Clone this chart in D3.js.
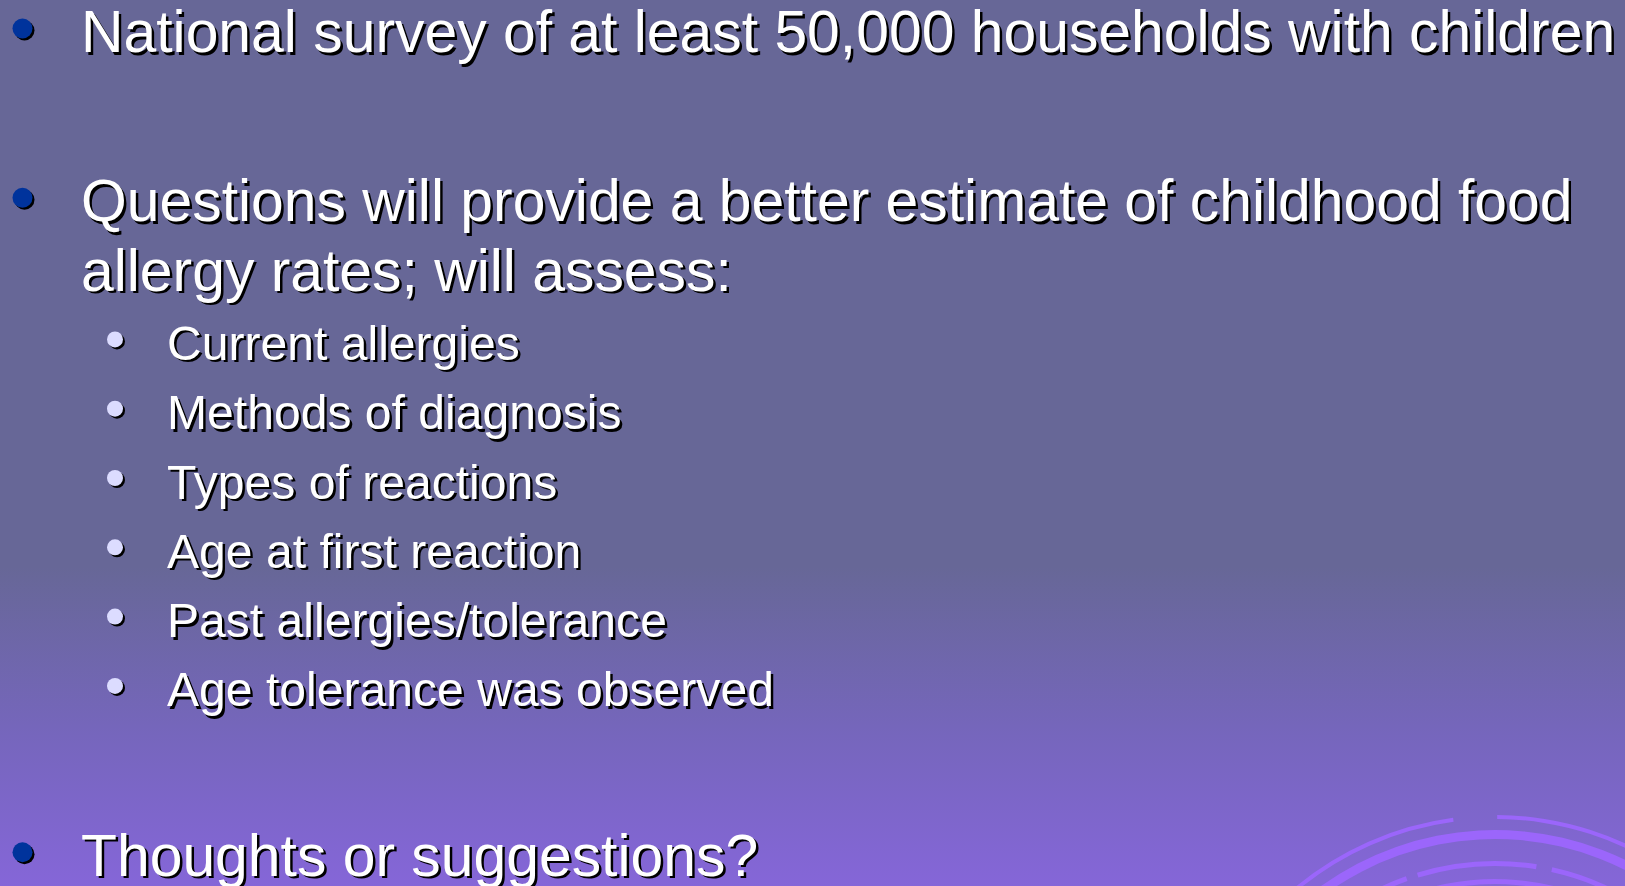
<html>
  <script src="https://cdnjs.cloudflare.com/ajax/libs/d3/7.8.5/d3.min.js"></script>
  <style>
    html, body {
      width: 100%;
      height: 100%;
      padding: 0px;
      margin: 0px;
      overflow: hidden;
    }
    svg text {
      font-family: "Liberation Sans", Arial, sans-serif;
    }
  </style>
  <body>
    <div id="slide"></div>
    <script>
      // slide content
      var mainBullets = [
        ["National survey of at least 50,000 households with children"],
        ["Questions will provide a better estimate of childhood food", "allergy rates; will assess:"],
        ["Thoughts or suggestions?"]
      ];
      var subBullets = [
        "Current allergies",
        "Methods of diagnosis",
        "Types of reactions",
        "Age at first reaction",
        "Past allergies/tolerance",
        "Age tolerance was observed"
      ];
      // which main bullet the sub list hangs under
      var subParent = 1;

      var width = 1625, height = 886;

      var svg = d3.select("#slide").append("svg")
        .attr("width", width)
        .attr("height", height);

      var defs = svg.append("defs");
      var grad = defs.append("linearGradient")
        .attr("id", "bg")
        .attr("x1", 0).attr("y1", 0).attr("x2", 0).attr("y2", 1);
      grad.append("stop").attr("offset", 0).attr("stop-color", "#676797");
      grad.append("stop").attr("offset", 0.64).attr("stop-color", "#676797");
      grad.append("stop").attr("offset", 0.82).attr("stop-color", "#7566bb");
      grad.append("stop").attr("offset", 1).attr("stop-color", "#8566d8");

      svg.append("rect")
        .attr("width", width)
        .attr("height", height)
        .attr("fill", "url(#bg)");

      // swirl in the corner
      var swirl = svg.append("g").attr("transform", "translate(1495,1128)");
      var arcs = [
        [309, 313, -40, -7.7], [309, 313, 0.4, 70],
        [289, 298, -60, 70],
        [262, 267, -40, -19.5], [262, 267, -17, 9], [262, 267, 12.4, 60],
        [244, 249, -25, 30]
      ];
      var rad = Math.PI / 180;
      swirl.selectAll("path")
        .data(arcs)
        .join("path")
          .attr("d", d => d3.arc()({ innerRadius: d[0], outerRadius: d[1], startAngle: d[2] * rad, endAngle: d[3] * rad }))
          .attr("fill", "#9b66fb");

      // build the rows: one per text line
      var rows = [];
      var slot = 0, gaps = 0;
      mainBullets.forEach(function(lines, i) {
        lines.forEach(function(t, j) {
          rows.push({ text: t, level: 0, bullet: j == 0, slot: slot, gaps: gaps });
          slot++;
        });
        if (i == subParent) {
          subBullets.forEach(function(t) {
            rows.push({ text: t, level: 1, bullet: true, slot: slot, gaps: gaps });
            slot++;
          });
        }
        gaps++;
      });

      var lineStep = 69.3, paraGap = 100, firstBase = 52;
      var rowY = d => firstBase + d.slot * lineStep + d.gaps * paraGap;
      var x = d3.scaleOrdinal().domain([0, 1]).range([81, 167]);
      var dotX = d3.scaleOrdinal().domain([0, 1]).range([22.5, 115]);
      var dotR = d3.scaleOrdinal().domain([0, 1]).range([10, 8]);
      var dotFill = d3.scaleOrdinal().domain([0, 1]).range(["#00339c", "#dcdcff"]);
      var fontSize = d3.scaleOrdinal().domain([0, 1]).range([58.85, 48.1]);
      var dotLift = d3.scaleOrdinal().domain([0, 1]).range([23.5, 20.5]);

      var row = svg.selectAll("g.row")
        .data(rows)
        .join("g")
          .attr("class", "row")
          .attr("transform", d => "translate(0," + rowY(d) + ")");

      var bul = row.filter(d => d.bullet);
      bul.append("circle")
        .attr("cx", d => dotX(d.level) + 2)
        .attr("cy", d => -dotLift(d.level) + 2)
        .attr("r", d => dotR(d.level))
        .attr("fill", "#000");
      bul.append("circle")
        .attr("cx", d => dotX(d.level))
        .attr("cy", d => -dotLift(d.level))
        .attr("r", d => dotR(d.level))
        .attr("fill", d => dotFill(d.level));

      // shadow then text
      row.append("text")
        .attr("x", d => x(d.level) + 2.5)
        .attr("y", 2.5)
        .attr("font-size", d => fontSize(d.level))
        .attr("fill", "#000")
        .text(d => d.text);
      row.append("text")
        .attr("x", d => x(d.level))
        .attr("y", 0)
        .attr("font-size", d => fontSize(d.level))
        .attr("fill", "#fff")
        .text(d => d.text);
    </script>
  </body>
</html>
